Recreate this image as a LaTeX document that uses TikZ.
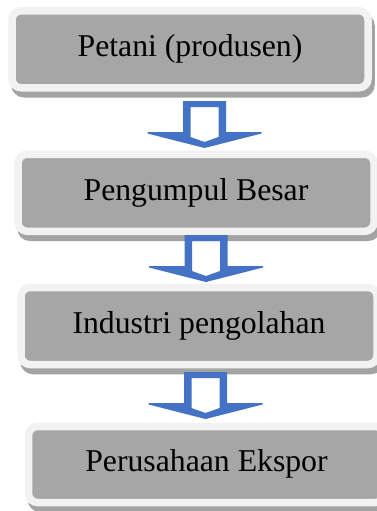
\documentclass[tikz,border=0pt]{standalone}
\usepackage{fontspec}
\setmainfont{Liberation Serif}
\usetikzlibrary{calc,backgrounds}
\definecolor{innergray}{HTML}{A6A6A6}
\definecolor{framegray}{HTML}{F2F2F2}
\definecolor{shadowgray}{HTML}{A3A3A3}
\definecolor{arrowblue}{HTML}{4472C4}
\begin{document}
\begin{tikzpicture}[x=0.75pt,y=-0.75pt,
  box/.style={draw=framegray, line width=5.625pt, fill=innergray,
    rounded corners=6.75pt, minimum width=267pt, minimum height=57.75pt,
    inner sep=0pt, outer sep=0pt,
    font=\fontsize{23.8pt}{28pt}\selectfont, text height=16.4pt, text depth=5.2pt},
  boxshadow/.style={fill=shadowgray, rounded corners=9.5pt},
  hollowarrow/.pic={
    \fill[arrowblue, even odd rule]
      (-21.5,-47) -- (21.5,-47) -- (21.5,-16) -- (57,-16) -- (57,-14.5) -- (0,0)
      -- (-57,-14.5) -- (-57,-16) -- (-21.5,-16) -- cycle
      (-14,-41) -- (14,-41) -- (14,-11) -- (0,-6) -- (-14,-11) -- cycle;
  }]
\useasboundingbox (0,0) rectangle (377,511);

\node[box] (b1) at (190,49.25) {Petani (produsen)};
\node[box] (b2) at (196,192.75) {Pengumpul Besar};
\node[box] (b3) at (199,326) {Industri pengolahan};
\node[box, minimum height=57pt] (b4) at (206.5,464.5) {Perusahaan Ekspor};

\begin{scope}[on background layer]
  \fill[white] (0,0) rectangle (377,511);
  \foreach \b in {b1,b2,b3,b4}{
    \fill[boxshadow] ([shift={(-0.75,2.25)}]\b.north west) rectangle ([shift={(6.75,9.75)}]\b.south east);
  }
\end{scope}

\coordinate (t1) at (204.5,148);
\coordinate (t2) at (206,282);
\coordinate (t3) at (205.5,419);
\pic (a1) at (t1) {hollowarrow};
\pic (a2) at (t2) {hollowarrow};
\pic (a3) at (t3) {hollowarrow};
\end{tikzpicture}
\end{document}
